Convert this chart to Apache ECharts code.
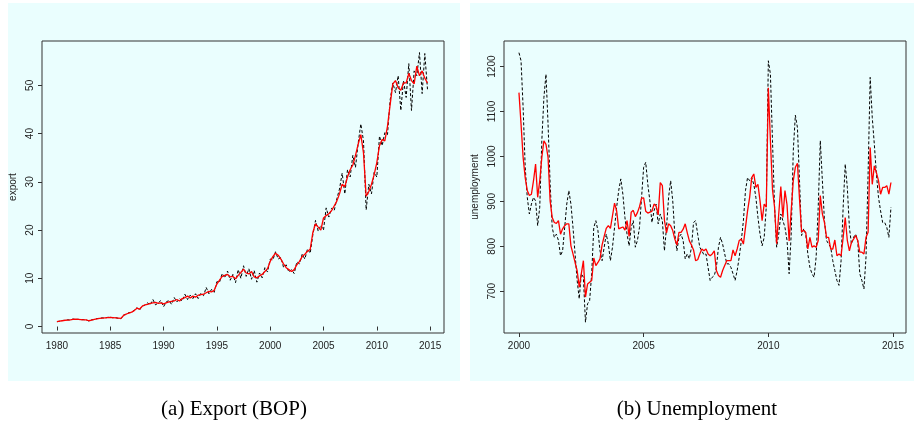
<!DOCTYPE html>
<html>
<head>
<meta charset="utf-8">
<script src="https://cdn.jsdelivr.net/npm/echarts@6/dist/echarts.min.js"></script>
<style>
  html, body { margin: 0; padding: 0; background: #ffffff; }
  #main { width: 914px; height: 423px; }
</style>
</head>
<body>
<div id="main"></div>
<script>
// export (BOP), quarterly from 1980 Q1
var exportStart = 1980;
var exportFitted = [
  1.0, 1.1, 1.2, 1.3,   1.35, 1.4, 1.5, 1.55,   1.5, 1.45, 1.4, 1.4,   1.2, 1.35, 1.5, 1.6,
  1.7, 1.75, 1.8, 1.85,   1.9, 1.85, 1.8, 1.75,   1.7, 2.3, 2.6, 2.8,   3.0, 3.3, 3.8, 3.6,
  4.2, 4.5, 4.6, 4.8,   4.9, 5.0, 4.8, 4.9,   4.7, 4.9, 5.1, 5.2,   5.3, 5.6, 5.3, 5.8,
  6.0, 6.3, 5.9, 6.3,   6.1, 6.5, 6.6, 6.7,   7.0, 7.3, 7.2, 7.5,   8.8, 9.6, 10.4, 10.6,
  10.8, 10.3, 10.4, 9.9,   10.6, 11.2, 11.9, 11.1,   10.9, 11.4, 10.3, 10.1,   10.5, 10.8, 11.4, 12.0,
  13.5, 14.5, 15.2, 14.8,   14.0, 13.0, 12.2, 11.8,   11.4, 11.8, 12.8, 13.5,   14.5, 15.0, 15.6, 16.0,
  19.5, 21.3, 20.6, 20.0,   22.5, 23.0, 23.4, 24.0,   25.0, 26.0, 27.5, 29.5,   29.0, 31.0, 32.5, 33.5,
  35.5, 37.8, 39.8, 36.0,   27.0, 28.0, 29.5, 31.5,   34.0, 37.5, 38.8, 38.5,   41.5, 46.0, 50.3, 51.0,
  49.5, 49.0, 50.5, 50.5,   52.5, 51.0, 50.3, 54.0,   52.0, 53.0, 51.5, 50.5
];
var exportActual = [
  1.0, 1.1, 1.25, 1.3,   1.4, 1.35, 1.55, 1.5,   1.5, 1.4, 1.45, 1.35,   1.15, 1.4, 1.45, 1.65,
  1.7, 1.8, 1.75, 1.9,   1.95, 1.8, 1.85, 1.7,   1.6, 2.4, 2.5, 2.9,   2.9, 3.4, 3.9, 3.4,
  4.3, 4.4, 4.9, 4.5,   5.6, 4.5, 4.9, 5.4,   4.1, 5.1, 5.4, 4.6,   6.0, 5.1, 5.8, 5.3,
  6.7, 5.6, 6.5, 5.8,   6.8, 5.8, 6.9, 6.4,   8.1, 6.8, 7.7, 7.1,   9.3, 9.2, 11.0, 10.1,
  11.5, 9.6, 10.8, 9.1,   11.8, 10.0, 12.6, 10.4,   12.0, 9.8, 11.6, 9.2,   11.1, 10.1, 12.2, 11.3,
  14.0, 13.8, 15.5, 14.0,   14.3, 12.3, 12.8, 11.3,   11.8, 11.0, 13.4, 13.0,   15.0, 14.0, 16.1, 15.2,
  19.0, 22.0, 19.8, 21.0,   20.0, 24.6, 22.7, 24.5,   24.0, 26.5, 28.5, 31.8,   27.5, 32.5, 31.0, 35.5,
  33.0, 38.0, 42.0, 38.5,   24.2, 29.5, 27.5, 32.0,   31.0, 39.5, 37.5, 40.2,   39.8, 47.0, 50.5, 48.5,
  52.0, 44.8, 51.0, 47.5,   54.5, 44.8, 53.0, 52.0,   56.8, 48.3, 56.6, 49.2
];

// unemployment, monthly from Jan 2000
var unempStart = 2000;
var unempFitted = [
  1142, 1072, 998, 953, 924, 913, 916, 946, 983, 909, 946, 998,
  1035, 1027, 998, 901, 864, 853, 851, 857, 827, 839, 846, 850,
  850, 801, 783, 764, 746, 709, 739, 768, 687, 716, 720, 724,
  774, 757, 764, 772, 803, 822, 840, 846, 840, 868, 896, 879,
  839, 841, 843, 836, 857, 822, 876, 880, 866, 875, 888, 907,
  908, 878, 874, 876, 878, 894, 890, 870, 942, 935, 858, 830,
  850, 846, 835, 816, 803, 831, 831, 838, 850, 830, 812, 803,
  792, 768, 770, 783, 794, 790, 794, 783, 779, 783, 790, 746,
  735, 731, 746, 757, 768, 768, 768, 792, 779, 794, 813, 816,
  805, 842, 879, 909, 953, 961, 931, 938, 901, 857, 894, 887,
  1153, 1035, 926, 887, 806, 872, 933, 864, 924, 892, 812, 880,
  946, 976, 985, 905, 832, 836, 831, 794, 820, 798, 801, 798,
  813, 913, 872, 853, 820, 820, 794, 794, 814, 779, 783, 779,
  820, 864, 813, 790, 809, 816, 824, 813, 787, 787, 783, 820,
  831, 1020, 938, 979, 964, 946, 916, 931, 931, 935, 916, 942
];
var unempActual = [
  1231, 1213, 1109, 976, 909, 872, 894, 909, 901, 846, 887, 1035,
  1131, 1183, 1072, 939, 842, 820, 827, 813, 779, 790, 842, 894,
  924, 894, 842, 783, 724, 683, 739, 731, 631, 672, 679, 739,
  842, 857, 835, 790, 768, 798, 827, 805, 768, 798, 842, 887,
  924, 950, 916, 864, 827, 801, 842, 857, 798, 813, 842, 909,
  976, 987, 938, 901, 853, 879, 894, 850, 872, 857, 790, 842,
  909, 946, 901, 827, 790, 820, 827, 813, 772, 783, 772, 798,
  853, 857, 827, 798, 790, 781, 783, 753, 724, 731, 735, 753,
  798, 820, 805, 783, 761, 761, 753, 739, 724, 746, 776, 813,
  857, 924, 953, 946, 953, 938, 909, 864, 827, 801, 820, 887,
  1213, 1183, 1035, 887, 798, 827, 872, 857, 842, 813, 739, 827,
  1013, 1092, 1064, 946, 824, 839, 827, 783, 753, 739, 731, 776,
  887, 1035, 946, 857, 813, 805, 798, 768, 746, 724, 713, 768,
  887, 983, 931, 842, 805, 820, 827, 813, 739, 724, 705, 776,
  961, 1176, 1087, 1027, 961, 909, 879, 853, 853, 842, 820, 887
];

var exportYearTicks = [1980, 1985, 1990, 1995, 2000, 2005, 2010, 2015];
var exportValueTicks = [0, 10, 20, 30, 40, 50];
var unempYearTicks = [2000, 2005, 2010, 2015];
var unempValueTicks = [700, 800, 900, 1000, 1100, 1200];

var toPairs = function (arr, start, perYear) {
  return arr.map(function (v, i) { return [start + i / perYear, v]; });
};

var tickFont = { fontFamily: 'Liberation Sans', fontSize: 10, color: '#222' };
var plain = function (v) { return '' + v; };

var makeX = function (idx, mn, mx, ticks) {
  return {
    type: 'value', gridIndex: idx, min: mn, max: mx,
    axisLine: { show: false },
    splitLine: { show: false },
    axisTick: { show: true, length: 4, customValues: ticks, lineStyle: { color: '#333' } },
    axisLabel: Object.assign({ margin: 8, customValues: ticks, formatter: plain }, tickFont)
  };
};
var makeY = function (idx, mn, mx, ticks, name) {
  return {
    type: 'value', gridIndex: idx, min: mn, max: mx,
    name: name, nameLocation: 'middle', nameGap: 24, nameRotate: 90,
    nameTextStyle: tickFont,
    axisLine: { show: false },
    splitLine: { show: false },
    axisTick: { show: true, length: 4, customValues: ticks, lineStyle: { color: '#333' } },
    axisLabel: Object.assign({ margin: 7, rotate: 90, customValues: ticks, formatter: plain }, tickFont)
  };
};

var chart = echarts.init(document.getElementById('main'));
chart.setOption({
  animation: false,
  backgroundColor: '#ffffff',
  graphic: [
    { type: 'rect', z: -10, shape: { x: 8, y: 3, width: 452, height: 378 }, style: { fill: '#eafefe' } },
    { type: 'rect', z: -10, shape: { x: 470, y: 3, width: 444, height: 378 }, style: { fill: '#eafefe' } },
    { type: 'text', style: { text: '(a) Export (BOP)', x: 234, y: 409, align: 'center', verticalAlign: 'middle', font: '21px "Liberation Serif"', fill: '#000' } },
    { type: 'text', style: { text: '(b) Unemployment', x: 697, y: 409, align: 'center', verticalAlign: 'middle', font: '21px "Liberation Serif"', fill: '#000' } }
  ],
  grid: [
    { left: 42, top: 41, width: 402, height: 292, show: true, backgroundColor: 'transparent', borderColor: '#333', borderWidth: 1 },
    { left: 504, top: 41, width: 402, height: 292, show: true, backgroundColor: 'transparent', borderColor: '#333', borderWidth: 1 }
  ],
  xAxis: [
    makeX(0, 1978.6, 2016.3, exportYearTicks),
    makeX(1, 1999.4, 2015.52, unempYearTicks)
  ],
  yAxis: [
    makeY(0, -1.34, 59.2, exportValueTicks, 'export'),
    makeY(1, 607, 1257, unempValueTicks, 'unemployment')
  ],
  series: [
    { type: 'line', xAxisIndex: 0, yAxisIndex: 0, showSymbol: false, data: toPairs(exportActual, exportStart, 4),
      lineStyle: { color: '#000', width: 1, type: [3, 2] } },
    { type: 'line', xAxisIndex: 0, yAxisIndex: 0, showSymbol: false, data: toPairs(exportFitted, exportStart, 4),
      lineStyle: { color: '#ff0000', width: 1.3 } },
    { type: 'line', xAxisIndex: 1, yAxisIndex: 1, showSymbol: false, data: toPairs(unempActual, unempStart, 12),
      lineStyle: { color: '#000', width: 1, type: [3, 2] } },
    { type: 'line', xAxisIndex: 1, yAxisIndex: 1, showSymbol: false, data: toPairs(unempFitted, unempStart, 12),
      lineStyle: { color: '#ff0000', width: 1.3 } }
  ]
});
</script>
</body>
</html>
